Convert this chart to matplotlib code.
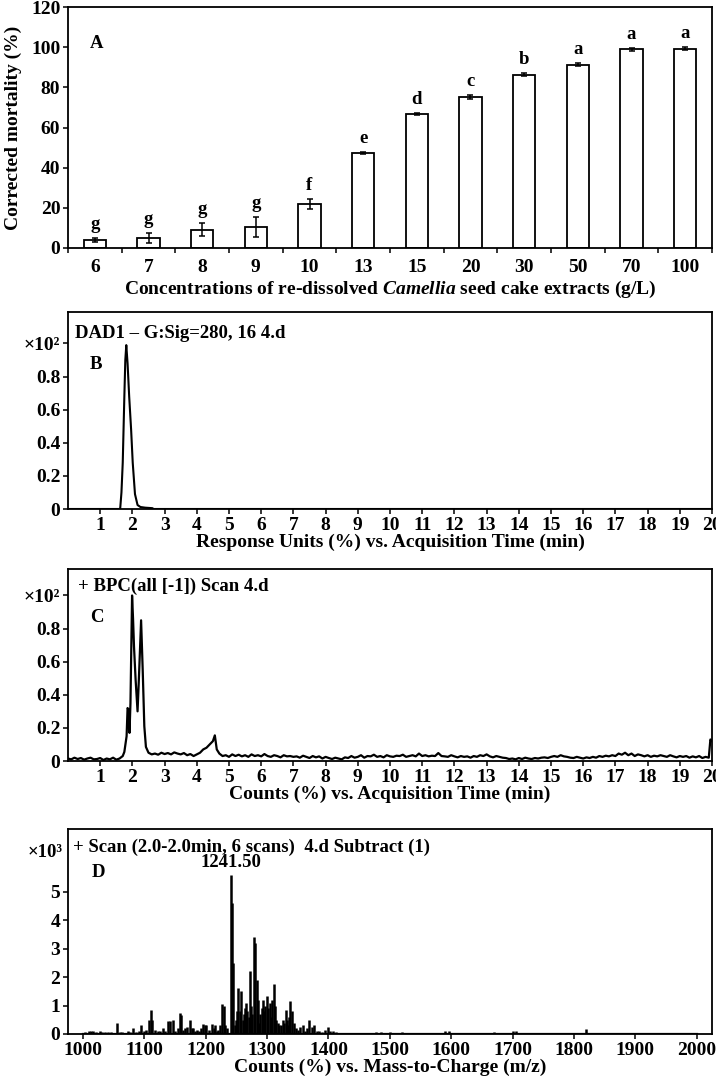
import numpy as np
import matplotlib
matplotlib.use('Agg')
import matplotlib.pyplot as plt
from matplotlib.ticker import FixedLocator

plt.rcParams['font.family'] = ['Liberation Serif', 'DejaVu Serif']
plt.rcParams['font.weight'] = 'bold'
plt.rcParams['axes.labelweight'] = 'bold'
plt.rcParams['font.size'] = 13
plt.rcParams['mathtext.fontset'] = 'custom'
plt.rcParams['mathtext.rm'] = 'Liberation Serif:weight=bold'
plt.rcParams['mathtext.it'] = 'Liberation Serif:style=italic:weight=bold'
plt.rcParams['axes.linewidth'] = 1.3

# ---- panel A: corrected mortality
conc_labels = ['6', '7', '8', '9', '10', '13', '15', '20', '30', '50', '70', '100']
mortality = [4.2, 5.0, 9.2, 10.5, 21.8, 47.2, 66.7, 75.2, 86.2, 91.2, 99.0, 99.3]
mortality_err = [1.0, 2.5, 3.0, 5.0, 2.4, 0.4, 0.4, 1.0, 0.8, 0.8, 0.7, 0.6]
letters = ['g', 'g', 'g', 'g', 'f', 'e', 'd', 'c', 'b', 'a', 'a', 'a']

# ---- panel B: DAD chromatogram
b_time = [0.0, 1.60, 1.62, 1.66, 1.70, 1.75, 1.78, 1.81, 1.85, 1.90, 1.96, 2.01,
          2.08, 2.16, 2.25, 2.40, 2.62, 2.66, 20.0]
b_signal = [0.0, 0.0, 0.0, 0.10, 0.28, 0.68, 0.90, 0.99, 0.88, 0.68, 0.48, 0.28,
            0.09, 0.024, 0.012, 0.008, 0.005, 0.0, 0.0]

# ---- panel C: BPC chromatogram
c_base1 = [0.015, 0.010, 0.020, 0.012, 0.018, 0.008, 0.015, 0.020, 0.010, 0.012,
           0.018, 0.006, 0.015, 0.010, 0.020, 0.008, 0.015, 0.030]          # 0.0-1.7
c_peak1_t = [1.75, 1.82, 1.85, 1.88, 1.91, 1.94, 1.99, 2.02, 2.05, 2.10, 2.16,
             2.20, 2.27, 2.32, 2.37, 2.42]
c_peak1 = [0.055, 0.15, 0.32, 0.31, 0.17, 0.35, 1.0, 0.86, 0.69, 0.49, 0.30,
           0.49, 0.85, 0.55, 0.21, 0.085]
c_base2 = [0.050, 0.040, 0.045, 0.038, 0.050, 0.042, 0.048, 0.040, 0.052, 0.045,
           0.040, 0.048, 0.035, 0.042, 0.030, 0.040, 0.050]                 # 2.5-4.1
c_peak2_t = [4.2, 4.3, 4.4, 4.5, 4.56, 4.62, 4.7, 4.8]
c_peak2 = [0.07, 0.08, 0.10, 0.12, 0.155, 0.07, 0.045, 0.03]
c_base3 = [0.035, 0.025, 0.040, 0.030, 0.038, 0.028, 0.035, 0.025, 0.040, 0.030,
           0.035, 0.028, 0.042, 0.030, 0.025, 0.035, 0.030, 0.022, 0.035, 0.028,
           0.030, 0.025,                                                     # 4.9-7.0
           0.028, 0.020, 0.032, 0.025, 0.018, 0.030, 0.022, 0.028, 0.015, 0.025,
           0.018, 0.012, 0.020, 0.015, 0.010, 0.022, 0.018, 0.030, 0.020, 0.025,
           0.035, 0.020, 0.030, 0.028, 0.038, 0.025, 0.030, 0.022, 0.035, 0.028,
           0.025, 0.032, 0.030, 0.038, 0.025, 0.030, 0.035, 0.028, 0.045, 0.030,
           0.035, 0.028, 0.032, 0.030, 0.048, 0.030, 0.028, 0.025, 0.035, 0.028,
           0.022, 0.030, 0.025, 0.028, 0.020, 0.030, 0.025, 0.035, 0.030, 0.040,
           0.028, 0.022, 0.030, 0.025, 0.020, 0.018, 0.012, 0.015, 0.010, 0.018,
           0.012, 0.020, 0.015, 0.012, 0.018, 0.015, 0.020, 0.022, 0.018, 0.025,
           0.030, 0.025, 0.035, 0.028, 0.025, 0.020, 0.018, 0.025, 0.020, 0.015,
           0.022, 0.018, 0.025, 0.020, 0.030, 0.025, 0.032, 0.028, 0.035, 0.030,
           0.045, 0.038, 0.050, 0.035, 0.045, 0.030, 0.040, 0.035, 0.028, 0.035,
           0.025, 0.032, 0.028, 0.035, 0.030, 0.025, 0.035, 0.028, 0.022, 0.030,
           0.025, 0.030, 0.020, 0.028, 0.022, 0.030, 0.018, 0.025, 0.020]    # 4.9-19.9
c_end_t = [19.95, 20.0]
c_end = [0.13, 0.12]

# ---- panel D: mass spectrum (m/z, intensity x10^3)
d_mz = [1003, 1009, 1013, 1016, 1021, 1027, 1031, 1035, 1040, 1046, 1050,
        1055, 1060, 1064, 1068, 1073, 1077, 1082, 1087, 1091, 1095, 1099, 1103,
        1107, 1110, 1113, 1117, 1122, 1126, 1130, 1134, 1139, 1142, 1147, 1150,
        1154, 1158, 1160, 1163, 1166, 1170, 1174, 1177, 1179, 1182, 1185, 1189,
        1192, 1196, 1199, 1201, 1205, 1210, 1213, 1215, 1218, 1220, 1223, 1227,
        1229, 1232, 1234, 1237, 1241.5, 1243, 1245, 1247, 1249, 1251, 1253, 1256,
        1258, 1260, 1262, 1264, 1266, 1268, 1270, 1272, 1274, 1276, 1279, 1281,
        1283, 1285, 1287, 1289, 1291, 1293, 1295, 1297, 1299, 1301, 1304, 1306,
        1308, 1311, 1313, 1315, 1318, 1320, 1323, 1326, 1328, 1330, 1332, 1334,
        1336, 1338, 1341, 1343, 1347, 1350, 1354, 1358, 1362, 1365, 1369, 1373,
        1377, 1381, 1385, 1390, 1395, 1399, 1403, 1407, 1412, 1418, 1425, 1440,
        1455, 1478, 1485, 1500, 1520, 1535, 1555, 1570, 1590, 1597, 1620, 1640,
        1670, 1700, 1705, 1740, 1775, 1820, 1860, 1905, 1930, 1950, 1975, 1995]
d_int = [0.08, 0.12, 0.10, 0.12, 0.08, 0.10, 0.07, 0.08, 0.06, 0.06, 0.05,
         0.40, 0.06, 0.08, 0.05, 0.10, 0.06, 0.20, 0.08, 0.10, 0.30, 0.12, 0.15,
         0.50, 0.85, 0.50, 0.15, 0.10, 0.12, 0.20, 0.12, 0.45, 0.45, 0.50, 0.10,
         0.20, 0.75, 0.65, 0.15, 0.20, 0.25, 0.50, 0.20, 0.20, 0.10, 0.15, 0.12,
         0.20, 0.35, 0.30, 0.30, 0.15, 0.35, 0.20, 0.30, 0.12, 0.15, 0.30, 1.05,
         1.00, 0.30, 0.20, 0.05, 5.60, 4.60, 2.50, 0.30, 0.50, 0.80, 1.60, 0.80,
         1.50, 0.50, 0.70, 0.90, 1.10, 0.80, 0.60, 2.20, 1.00, 0.70, 3.40, 3.20,
         1.90, 1.20, 0.40, 0.70, 0.90, 1.20, 0.80, 1.00, 1.35, 0.90, 1.10, 0.60,
         1.20, 1.75, 1.00, 0.50, 0.40, 0.30, 0.30, 0.50, 0.40, 0.85, 0.50, 0.30,
         0.60, 1.15, 0.80, 0.40, 0.20, 0.15, 0.25, 0.30, 0.12, 0.20, 0.50, 0.25,
         0.30, 0.10, 0.10, 0.08, 0.15, 0.25, 0.10, 0.10, 0.08, 0.04, 0.03, 0.03,
         0.03, 0.06, 0.08, 0.06, 0.08, 0.04, 0.04, 0.03, 0.12, 0.10, 0.04, 0.05,
         0.06, 0.12, 0.10, 0.04, 0.03, 0.18, 0.03, 0.04, 0.04, 0.04, 0.03, 0.03]

W, H = 716, 1080
fig = plt.figure(figsize=(W / 100, H / 100), dpi=100)

TICK = 14
LAB = 14
TXT = 13.5


def box(top, bottom, left=68, right=712):
    return fig.add_axes([left / W, 1 - bottom / H, (right - left) / W, (bottom - top) / H])


def style(ax):
    ax.tick_params(direction='out', length=3.5, width=1.1, pad=2, labelsize=TICK)


# A
axA = box(7, 248)
x = np.arange(len(conc_labels))
axA.bar(x, mortality, width=0.42, color='white', edgecolor='black', linewidth=1.3,
        yerr=mortality_err, capsize=2.5, error_kw=dict(elinewidth=1.1, capthick=1.1))
for i, (v, e, s) in enumerate(zip(mortality, mortality_err, letters)):
    axA.text(i, v + e + 4.5, s, ha='center', va='baseline', fontsize=TXT)
axA.set_xlim(-0.5, len(conc_labels) - 0.5)
axA.set_ylim(0, 120)
axA.set_yticks(np.arange(0, 121, 20))
axA.set_xticks(x)
axA.set_xticklabels(conc_labels)
axA.xaxis.set_minor_locator(FixedLocator(np.arange(-0.5, len(conc_labels), 1.0)))
style(axA)
axA.tick_params(axis='x', which='major', length=0, pad=8)
axA.tick_params(axis='x', which='minor', direction='out', length=3.5, width=1.1)
axA.set_xlabel('Concentrations of re-dissolved $Camellia$ seed cake extracts (g/L)',
               fontsize=LAB, labelpad=2)
axA.set_ylabel('Corrected mortality (%)', fontsize=14)
axA.yaxis.set_label_coords(-0.072, 0.5)
axA.text(0.04, 102, 'A', ha='center', va='center', fontsize=TXT)

# B
axB = box(312, 509)
axB.plot(b_time, b_signal, color='black', lw=1.5)
axB.set_xlim(0, 20)
axB.set_ylim(0, 1.19)
axB.set_xticks(np.arange(1, 21))
axB.set_yticks([0, 0.2, 0.4, 0.6, 0.8, 1.0])
axB.set_yticklabels(['0', '0.2', '0.4', '0.6', '0.8', '×10²'])
style(axB)
axB.set_xlabel('Response Units (%) vs. Acquisition Time (min)', fontsize=LAB, labelpad=0)
axB.text(0.011, 0.893, 'DAD1 – G:Sig=280, 16 4.d', transform=axB.transAxes,
         ha='left', va='center', fontsize=TXT)
axB.text(0.034, 0.731, 'B', transform=axB.transAxes, ha='left', va='center', fontsize=TXT)

# C
c_time = np.concatenate([np.round(np.arange(0, 1.75, 0.1), 2), c_peak1_t,
                         np.round(np.arange(2.5, 4.15, 0.1), 2), c_peak2_t,
                         np.round(np.arange(4.9, 19.95, 0.1), 2), c_end_t])
c_signal = np.concatenate([c_base1, c_peak1, c_base2, c_peak2, c_base3, c_end])
axC = box(569, 761)
axC.plot(c_time, c_signal, color='black', lw=1.6)
axC.set_xlim(0, 20)
axC.set_ylim(0, 1.16)
axC.set_xticks(np.arange(1, 21))
axC.set_yticks([0, 0.2, 0.4, 0.6, 0.8, 1.0])
axC.set_yticklabels(['0', '0.2', '0.4', '0.6', '0.8', '×10²'])
style(axC)
axC.set_xlabel('Counts (%) vs. Acquisition Time (min)', fontsize=LAB, labelpad=0)
axC.text(0.0155, 0.911, '+ BPC(all [-1]) Scan 4.d', transform=axC.transAxes,
         ha='left', va='center', fontsize=TXT)
axC.text(0.034, 0.746, 'C', transform=axC.transAxes, ha='left', va='center', fontsize=TXT)

# D
axD = box(829, 1034)
axD.vlines(d_mz, 0, d_int, color='black', lw=1.8)
axD.plot([1000, 2000], [0, 0], color='black', lw=1.6)
axD.set_xlim(975.5, 2025)
axD.set_ylim(0, 7.2)
axD.set_xticks(np.arange(1000, 2001, 100))
axD.set_yticks(np.arange(0, 6))
style(axD)
axD.set_xlabel('Counts (%) vs. Mass-to-Charge (m/z)', fontsize=LAB, labelpad=0)
axD.text(0.008, 0.912, '+ Scan (2.0-2.0min, 6 scans)  4.d Subtract (1)',
         transform=axD.transAxes, ha='left', va='center', fontsize=TXT)
axD.text(0.037, 0.79, 'D', transform=axD.transAxes, ha='left', va='center', fontsize=TXT)
axD.text(1241.5, 5.72, '1241.50', ha='center', va='bottom', fontsize=TXT)
axD.text(-0.008, 6.36, '×10³', transform=axD.get_yaxis_transform(),
         ha='right', va='center', fontsize=TXT)

fig.savefig('out.png', dpi=100)
